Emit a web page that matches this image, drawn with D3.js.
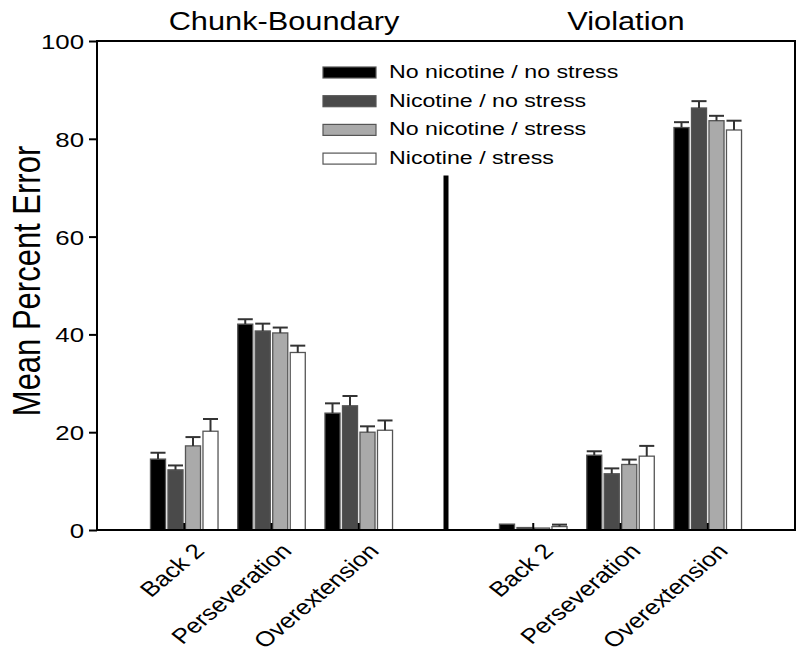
<!DOCTYPE html>
<html>
<head>
<meta charset="utf-8">
<script src="https://cdn.jsdelivr.net/npm/d3@7"></script>
<style>
  html, body { margin: 0; padding: 0; background: #fff; }
  svg { display: block; font-family: "Liberation Sans", Arial, sans-serif; }
</style>
</head>
<body>
<svg id="chart" width="800" height="658"></svg>
<script>
// ---- data ----
const panels = ["Chunk-Boundary", "Violation"];
const categories = ["Back 2", "Perseveration", "Overextension"];
const series = ["No nicotine / no stress", "Nicotine / no stress", "No nicotine / stress", "Nicotine / stress"];
const colors = ["#000000", "#4a4a4a", "#aaaaaa", "#ffffff"];
// means per category (rows) x series (cols)
const chunkMeans = [[14.5, 12.3, 17.2, 20.2], [42.1, 40.7, 40.3, 36.3], [23.9, 25.4, 20.0, 20.4]];
const chunkErrors = [[1.3, 0.9, 1.8, 2.5], [1.0, 1.5, 1.1, 1.4], [2.0, 2.0, 1.2, 2.0]];
const violationMeans = [[1.2, 0.5, 0.4, 0.7], [15.3, 11.5, 13.4, 15.1], [82.3, 86.3, 83.7, 81.8]];
const violationErrors = [[0, 0, 0, 0.4], [0.8, 1.1, 1.0, 2.1], [1.1, 1.4, 1.0, 1.9]];
const dividerValue = 72.5;
const yTicks = [0, 20, 40, 60, 80, 100];

(function () {
// ---- layout ----
const svg = d3.select("#chart");
const mLeft = 97, mRight = 795, mTop = 41, mBottom = 530;
const SX = 1.23; // horizontal stretch of the original figure's text
const font = '"Liberation Sans", Arial, sans-serif';

const slots = ["cb0", "cb1", "cb2", "div", "v0", "v1", "v2"];
const slotLabel = { cb0: categories[0], cb1: categories[1], cb2: categories[2], v0: categories[0], v1: categories[1], v2: categories[2] };

const x0 = d3.scaleBand().domain(slots).range([mLeft, mRight]).paddingInner(0).paddingOuter(0.5);
const x1 = d3.scaleBand().domain(d3.range(series.length)).range([-35, 35]).paddingInner(0.14).paddingOuter(0.07);
const y = d3.scaleLinear().domain([0, 100]).range([mBottom, mTop]);

// build records
const records = [];
[[chunkMeans, chunkErrors, "cb"], [violationMeans, violationErrors, "v"]].forEach(([m, e, p]) => {
  m.forEach((row, ci) => row.forEach((val, si) => {
    records.push({ slot: p + ci, s: si, v: val, e: e[ci][si] });
  }));
});

const cx = d => x0(d.slot) + x0.bandwidth() / 2 + x1(d.s);

// bars
svg.append("g").selectAll("rect").data(records).join("rect")
  .attr("x", d => cx(d))
  .attr("width", x1.bandwidth())
  .attr("y", d => y(d.v))
  .attr("height", d => y(0) - y(d.v))
  .attr("fill", d => colors[d.s])
  .attr("stroke", "#555")
  .attr("stroke-width", 1.3);

// error bars (upper only)
const eb = svg.append("g").attr("stroke", "#333").attr("stroke-width", 2).attr("fill", "none");
records.filter(d => d.e > 0).forEach(d => {
  const mx = cx(d) + x1.bandwidth() / 2;
  eb.append("line").attr("x1", mx).attr("x2", mx).attr("y1", y(d.v)).attr("y2", y(d.v + d.e));
  eb.append("line").attr("x1", mx - x1.bandwidth() / 2).attr("x2", mx + x1.bandwidth() / 2)
    .attr("y1", y(d.v + d.e)).attr("y2", y(d.v + d.e));
});

// divider
const dx = x0("div") + x0.bandwidth() / 2;
svg.append("line").attr("x1", dx).attr("x2", dx).attr("y1", y(0)).attr("y2", y(dividerValue))
  .attr("stroke", "#000").attr("stroke-width", 5);

// frame
svg.append("rect").attr("x", mLeft).attr("y", mTop).attr("width", mRight - mLeft).attr("height", mBottom - mTop)
  .attr("fill", "none").attr("stroke", "#000").attr("stroke-width", 2);

// x axis
const xAxis = svg.append("g").attr("transform", `translate(0,${mBottom})`)
  .call(d3.axisBottom(x0).tickSizeInner(-7).tickSizeOuter(0).tickFormat(d => slotLabel[d] || ""));
xAxis.select(".domain").remove();
xAxis.selectAll(".tick").filter(d => d === "div").remove();
xAxis.selectAll(".tick line").attr("stroke", "#000").attr("stroke-width", 2);
xAxis.selectAll(".tick text")
  .attr("x", null).attr("y", null).attr("dy", "0.35em")
  .attr("text-anchor", "end")
  .attr("transform", `translate(15,17) scale(${SX},1) rotate(-46)`)
  .style("font-family", font).style("font-size", "21px").attr("fill", "#000");

// y axis
const yAxis = svg.append("g").attr("transform", `translate(${mLeft},0)`)
  .call(d3.axisLeft(y).tickValues(yTicks).tickSizeInner(8).tickSizeOuter(0).tickPadding(0));
yAxis.select(".domain").remove();
yAxis.selectAll(".tick line").attr("stroke", "#000").attr("stroke-width", 2);
yAxis.selectAll(".tick text")
  .attr("x", null).attr("dy", "0.36em")
  .attr("transform", `translate(-13,0) scale(${SX},1)`)
  .style("font-family", font).style("font-size", "21px").attr("fill", "#000");

// y title
svg.append("text").text("Mean Percent Error")
  .attr("text-anchor", "middle")
  .attr("transform", `translate(40,281) scale(${SX},1) rotate(-90)`)
  .style("font-family", font).style("font-size", "31px").attr("fill", "#000");

// panel titles
const panelCenters = [284, 626];
panels.forEach((p, i) => {
  svg.append("text").text(p)
    .attr("text-anchor", "middle")
    .attr("transform", `translate(${panelCenters[i]},30) scale(${SX},1)`)
    .style("font-family", font).style("font-size", "25px").attr("fill", "#000");
});

// legend
const lg = svg.append("g");
series.forEach((s, i) => {
  const by = 78 + i * 28.7;
  lg.append("rect").attr("x", 323).attr("y", by - 11).attr("width", 53).attr("height", 11)
    .attr("fill", colors[i]).attr("stroke", "#555").attr("stroke-width", 1.2);
  lg.append("text").text(s)
    .attr("transform", `translate(389,${by}) scale(1.22,1)`)
    .style("font-family", font).style("font-size", "19px").attr("fill", "#000");
});
})();
</script>
</body>
</html>
